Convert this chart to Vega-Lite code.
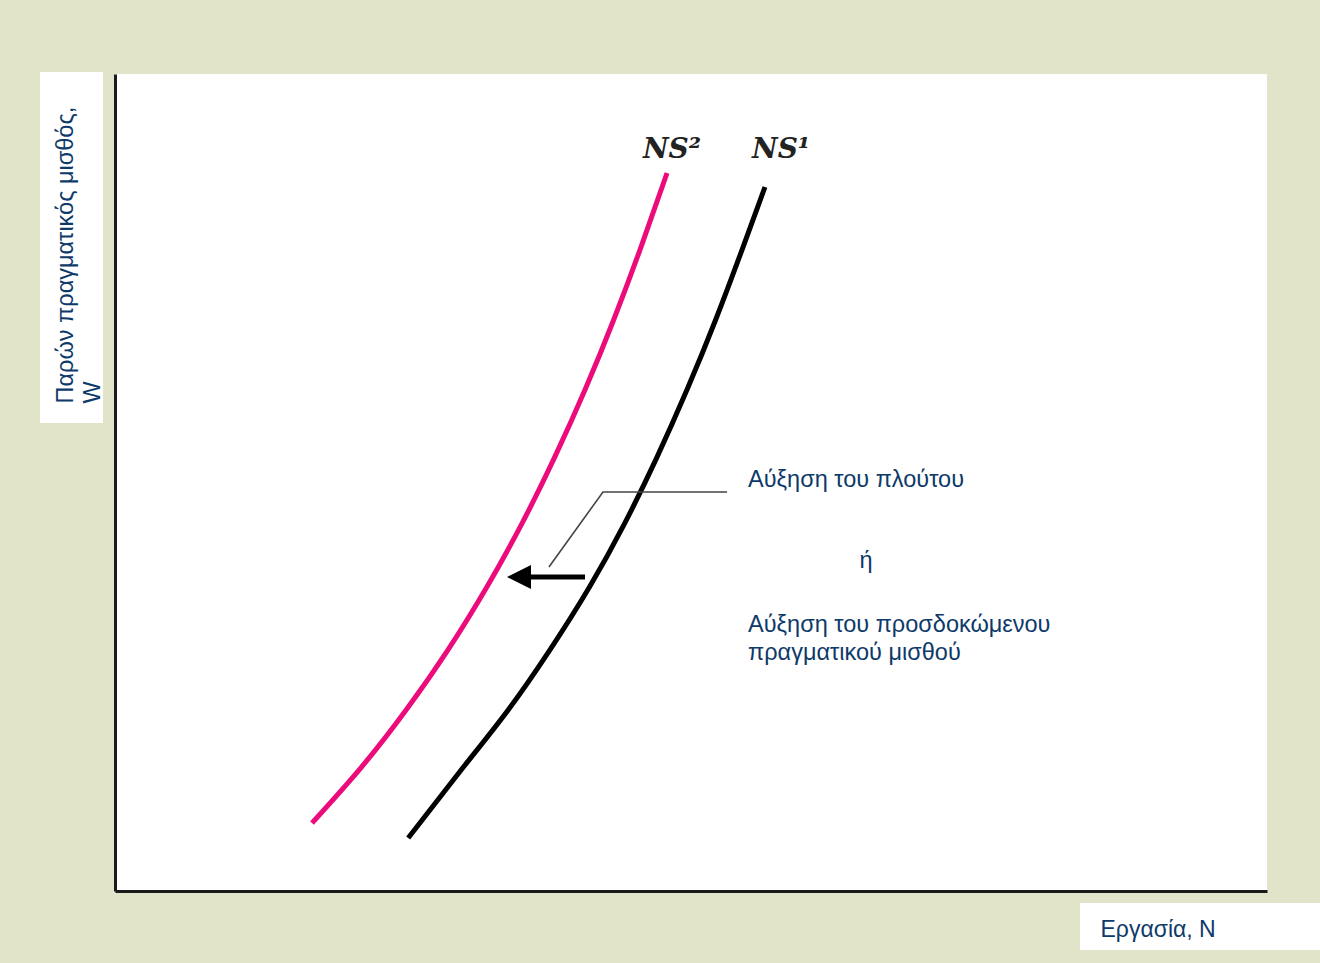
{
  "$schema": "https://vega.github.io/schema/vega-lite/v6.json",
  "autosize": {"type": "none"},
  "width": 1152,
  "height": 817,
  "padding": {"left": 115, "top": 74, "right": 53, "bottom": 72},
  "background": "#e1e4c9",
  "config": {
    "view": {"fill": "white", "stroke": null},
    "axis": {"grid": false, "ticks": false, "labels": false, "domainColor": "#1a1a1a", "domainWidth": 3}
  },
  "datasets": {
    "boxes": [
      {"x1": -6.51, "x2": -1.04, "y1": 57.28, "y2": 100.24},
      {"x1": 83.77, "x2": 104.6, "y1": -7.22, "y2": -1.47}
    ],
    "curves": [
      {"curve": "NS2", "i": 1, "x": 17.10, "y": 8.32},
      {"curve": "NS2", "i": 2, "x": 21.38, "y": 15.14},
      {"curve": "NS2", "i": 3, "x": 25.30, "y": 22.22},
      {"curve": "NS2", "i": 4, "x": 28.92, "y": 29.55},
      {"curve": "NS2", "i": 5, "x": 32.24, "y": 37.12},
      {"curve": "NS2", "i": 6, "x": 35.31, "y": 44.94},
      {"curve": "NS2", "i": 7, "x": 38.15, "y": 53.04},
      {"curve": "NS2", "i": 8, "x": 40.81, "y": 61.37},
      {"curve": "NS2", "i": 9, "x": 43.30, "y": 69.95},
      {"curve": "NS2", "i": 10, "x": 45.65, "y": 78.79},
      {"curve": "NS2", "i": 11, "x": 47.92, "y": 87.88},
      {"curve": "NS1", "i": 1, "x": 25.45, "y": 6.49},
      {"curve": "NS1", "i": 2, "x": 30.23, "y": 15.14},
      {"curve": "NS1", "i": 3, "x": 34.16, "y": 22.22},
      {"curve": "NS1", "i": 4, "x": 37.77, "y": 29.55},
      {"curve": "NS1", "i": 5, "x": 41.15, "y": 37.12},
      {"curve": "NS1", "i": 6, "x": 44.22, "y": 44.94},
      {"curve": "NS1", "i": 7, "x": 47.03, "y": 53.04},
      {"curve": "NS1", "i": 8, "x": 49.66, "y": 61.37},
      {"curve": "NS1", "i": 9, "x": 52.15, "y": 69.95},
      {"curve": "NS1", "i": 10, "x": 54.51, "y": 78.79},
      {"curve": "NS1", "i": 11, "x": 56.42, "y": 86.17}
    ],
    "leader": [
      {"i": 1, "x": 37.67, "y": 39.66},
      {"i": 2, "x": 42.36, "y": 48.84},
      {"i": 3, "x": 53.13, "y": 48.84}
    ],
    "shaft": [{"x1": 35.59, "x2": 40.80, "y": 38.43}],
    "head": [{"x": 35.07, "y": 38.43}],
    "labels": [
      {"label": "NS²", "x": 45.83, "y": 89.72},
      {"label": "NS¹", "x": 55.30, "y": 89.72}
    ],
    "notesLeft": [
      {"text": "Αύξηση του πλούτου", "x": 54.95, "y": 49.45},
      {"text": "Αύξηση του προσδοκώμενου", "x": 54.95, "y": 31.70},
      {"text": "πραγματικού μισθού", "x": 54.95, "y": 28.27}
    ],
    "notesCenter": [
      {"text": "ή", "x": 65.19, "y": 39.53}
    ]
  },
  "layer": [
    {
      "data": {"name": "boxes"},
      "mark": {"type": "rect", "color": "white", "clip": false},
      "encoding": {
        "x": {"field": "x1", "type": "quantitative", "scale": {"domain": [0, 100], "nice": false, "zero": false},
              "axis": {"zindex": 1, "title": "Εργασία, N", "titleFont": "Liberation Sans", "titleFontSize": 23, "titleFontWeight": "normal", "titleColor": "#0e3a6a", "titleAlign": "left", "titleBaseline": "alphabetic", "titleX": 985, "titleY": 45}},
        "x2": {"field": "x2"},
        "y": {"field": "y1", "type": "quantitative", "scale": {"domain": [0, 100], "nice": false, "zero": false},
              "axis": {"zindex": 1, "title": ["Παρών πραγματικός μισθός,", "W"], "titleFont": "Liberation Sans", "titleFontSize": 23.5, "titleFontWeight": "normal", "titleColor": "#0e3a6a", "titleAngle": 270, "titleAlign": "left", "titleBaseline": "middle", "titleLineHeight": 27, "titleX": -50, "titleY": 329}},
        "y2": {"field": "y2"}
      }
    },
    {
      "data": {"name": "curves"},
      "mark": {"type": "line", "strokeWidth": 5, "interpolate": "natural", "strokeCap": "butt"},
      "encoding": {
        "x": {"field": "x", "type": "quantitative"},
        "y": {"field": "y", "type": "quantitative"},
        "order": {"field": "i"},
        "color": {"field": "curve", "type": "nominal", "scale": {"domain": ["NS1", "NS2"], "range": ["#000000", "#ec0b7b"]}, "legend": null}
      }
    },
    {
      "data": {"name": "leader"},
      "mark": {"type": "line", "strokeWidth": 1.6, "color": "#444444"},
      "encoding": {
        "x": {"field": "x", "type": "quantitative"},
        "y": {"field": "y", "type": "quantitative"},
        "order": {"field": "i"}
      }
    },
    {
      "data": {"name": "shaft"},
      "mark": {"type": "rule", "strokeWidth": 5, "color": "black"},
      "encoding": {
        "x": {"field": "x1", "type": "quantitative"},
        "x2": {"field": "x2"},
        "y": {"field": "y", "type": "quantitative"}
      }
    },
    {
      "data": {"name": "head"},
      "mark": {"type": "point", "shape": "M -1 0 L 1 -1 L 1 1 Z", "size": 576, "filled": true, "color": "black", "opacity": 1},
      "encoding": {
        "x": {"field": "x", "type": "quantitative"},
        "y": {"field": "y", "type": "quantitative"}
      }
    },
    {
      "data": {"name": "labels"},
      "mark": {"type": "text", "font": "DejaVu Serif", "fontStyle": "italic", "fontWeight": "bold", "fontSize": 28, "color": "#222222", "align": "left", "baseline": "alphabetic"},
      "encoding": {
        "x": {"field": "x", "type": "quantitative"},
        "y": {"field": "y", "type": "quantitative"},
        "text": {"field": "label"}
      }
    },
    {
      "data": {"name": "notesLeft"},
      "mark": {"type": "text", "font": "Liberation Sans", "fontSize": 23.5, "color": "#0e3a6a", "align": "left", "baseline": "alphabetic"},
      "encoding": {
        "x": {"field": "x", "type": "quantitative"},
        "y": {"field": "y", "type": "quantitative"},
        "text": {"field": "text"}
      }
    },
    {
      "data": {"name": "notesCenter"},
      "mark": {"type": "text", "font": "Liberation Sans", "fontSize": 23.5, "color": "#0e3a6a", "align": "center", "baseline": "alphabetic"},
      "encoding": {
        "x": {"field": "x", "type": "quantitative"},
        "y": {"field": "y", "type": "quantitative"},
        "text": {"field": "text"}
      }
    }
  ]
}
